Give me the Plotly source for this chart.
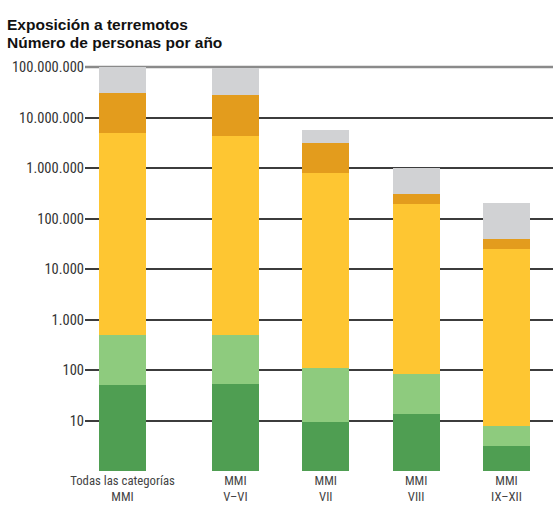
import plotly.graph_objects as go

# Categories (MMI intensity groups)
categories = ["Todas las categorías<br>MMI", "MMI<br>V–VI", "MMI<br>VII", "MMI<br>VIII", "MMI<br>IX–XII"]

# Upper bound of each stacked band (cumulative number of people per year)
top_dark_green = [50, 52, 9.2, 13.3, 3.1]
top_light_green = [490, 490, 108, 82, 7.9]
top_yellow = [4.9e6, 4.3e6, 7.95e5, 1.93e5, 2.48e4]
top_orange = [3.05e7, 2.8e7, 3.1e6, 3.0e5, 3.9e4]
top_gray = [1.0e8, 9.7e7, 5.6e6, 1.01e6, 2.02e5]

# Y-axis ticks
tick_vals = [10, 100, 1e3, 1e4, 1e5, 1e6, 1e7, 1e8]
tick_text = ["10", "100", "1.000", "10.000", "100.000", "1.000.000", "10.000.000", "100.000.000"]

# Horizontal placement of the bars (first group set apart a little)
x_pos = [0, 1.25, 2.25, 3.25, 4.25]

bands = [
    (top_dark_green, None, "#4f9e52"),
    (top_light_green, top_dark_green, "#8ecb7e"),
    (top_yellow, top_light_green, "#fec632"),
    (top_orange, top_yellow, "#e39c1d"),
    (top_gray, top_orange, "#d1d2d4"),
]

fig = go.Figure()
for top, below, color in bands:
    seg = [t - (b if below else 0) for t, b in zip(top, below or [0] * len(top))]
    fig.add_trace(go.Bar(
        x=x_pos, y=seg, marker=dict(color=color, line=dict(width=0)),
        width=0.52, showlegend=False, hoverinfo="skip",
    ))

condensed = "Roboto Condensed, Liberation Sans Narrow, Arial Narrow, sans-serif"
regular = "Liberation Sans, Arial, Helvetica, sans-serif"

fig.update_layout(
    barmode="stack",
    width=556, height=510,
    margin=dict(l=85, r=3, t=67, b=39),
    paper_bgcolor="white", plot_bgcolor="white",
    font=dict(family=condensed, size=13, color="#333333"),
    xaxis=dict(
        range=[-0.415, 4.765], tickvals=x_pos, ticktext=categories,
        showgrid=False, zeroline=False, showline=False, ticks="",
        tickfont=dict(size=12.75, color="#444444", family=condensed),
    ),
    yaxis=dict(
        type="log", range=[0, 8], tickvals=tick_vals, ticktext=tick_text,
        showgrid=True, gridcolor="#3c3c3c", gridwidth=1.5,
        zeroline=False, showline=False, ticks="",
        tickfont=dict(size=14.5, color="#333333", family=condensed),
    ),
    shapes=[dict(type="line", xref="paper", yref="paper", x0=0, x1=1, y0=1, y1=1,
                 line=dict(color="#8a8a8a", width=2.5), layer="below")],
    annotations=[
        dict(text="<b>Exposición a terremotos</b>", xref="paper", yref="paper",
             x=(5 - 85) / 468, y=1 + (67 - 25) / 404, xanchor="left", yanchor="middle",
             showarrow=False, font=dict(size=15.5, color="#111111", family=regular)),
        dict(text="<b>Número de personas por año</b>", xref="paper", yref="paper",
             x=(5 - 85) / 468, y=1 + (67 - 43) / 404, xanchor="left", yanchor="middle",
             showarrow=False, font=dict(size=15.5, color="#111111", family=regular)),
    ],
)

fig.write_html("out.html")
